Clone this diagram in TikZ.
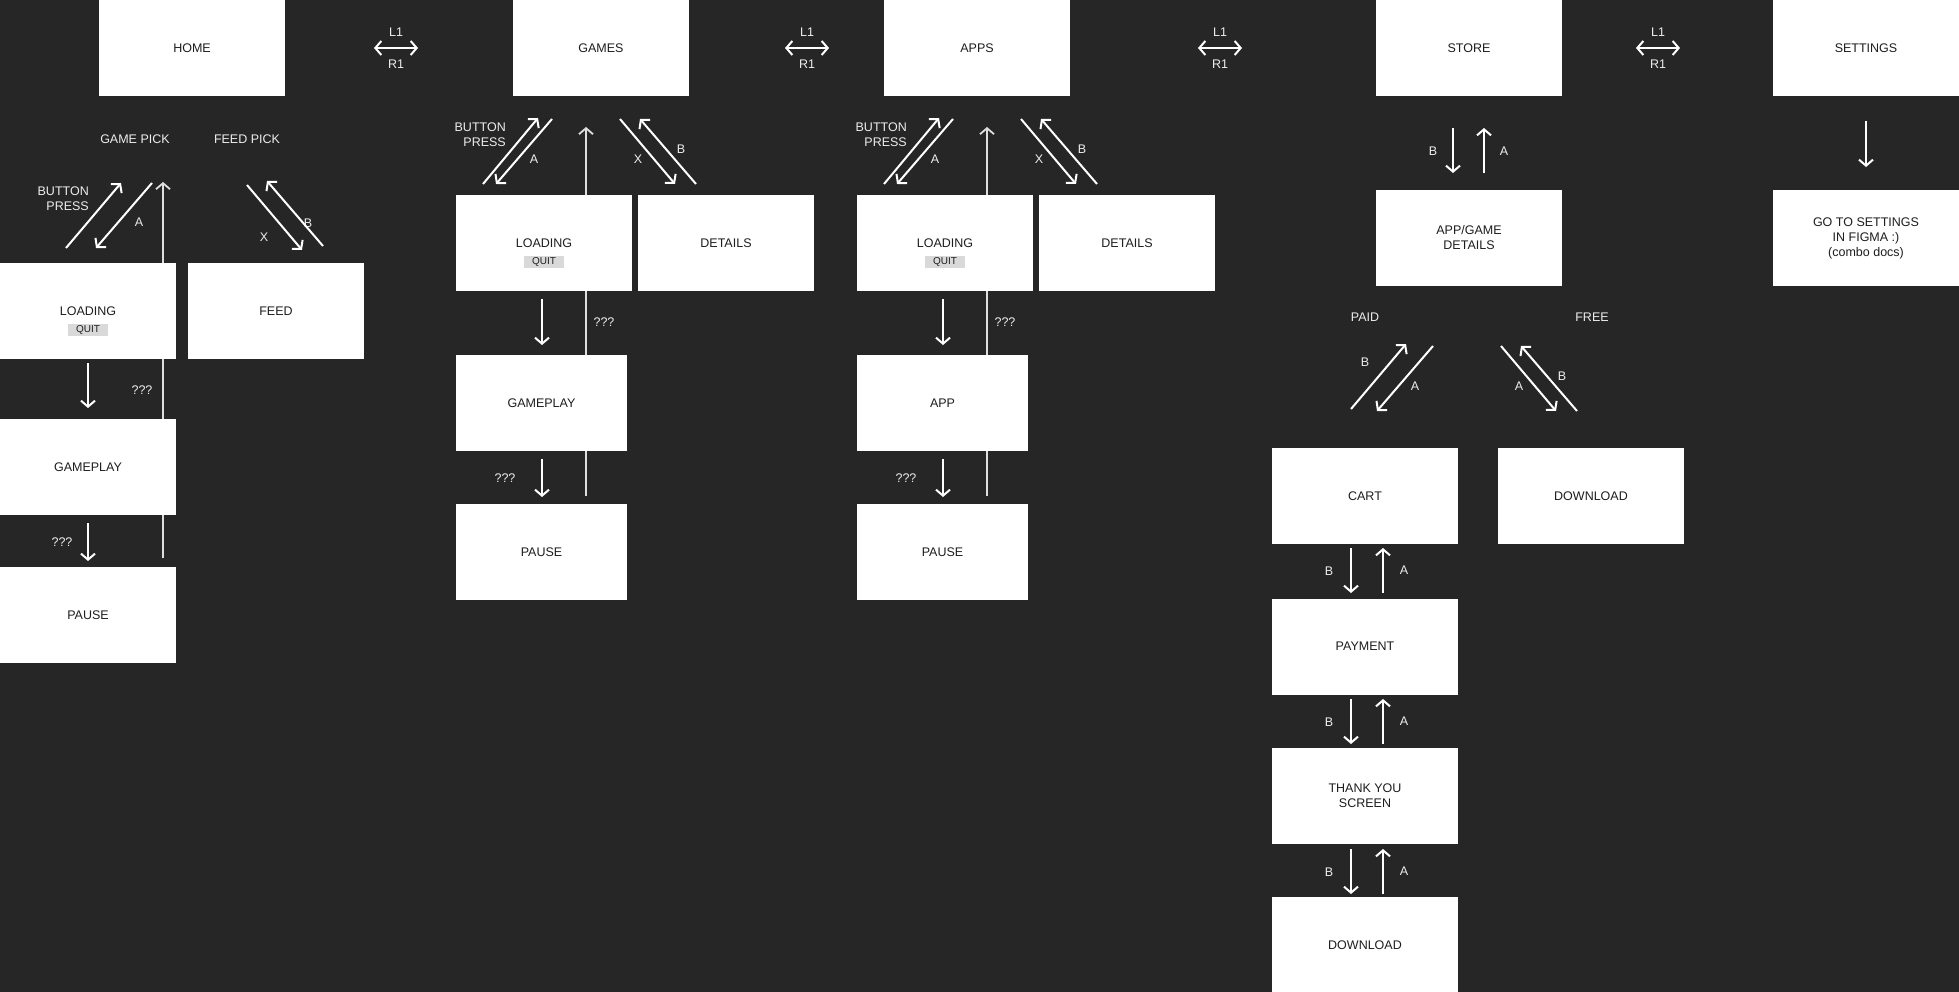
\documentclass[tikz,border=0pt]{standalone}
\usepackage{fontspec}
\setmainfont{Liberation Sans}
\usetikzlibrary{arrows.meta}
\definecolor{bg}{HTML}{262626}
\definecolor{ink}{HTML}{1E1E1E}
\definecolor{tagc}{HTML}{D9D9D9}
\definecolor{lblc}{HTML}{EDEDED}
\newcommand\mkarrow[4][]{\coordinate (#2-s) at (#3); \coordinate (#2-e) at (#4); \draw[arr,#1] (#2-s) -- (#2-e);}
\begin{document}
\begin{tikzpicture}[x=1pt,y=-1pt,
  boxbase/.style={fill=white, draw=none, inner sep=0pt, text=ink, align=center,
    font=\fontsize{12.5}{15}\selectfont, minimum height=96pt},
  wbox/.style={boxbase, minimum width=186pt},
  mbox/.style={boxbase, minimum width=176pt},
  nbox/.style={boxbase, minimum width=171pt},
  tag/.style={fill=tagc, text=ink, inner sep=0pt, minimum width=40pt, minimum height=12pt,
    font=\fontsize{10}{11}\selectfont},
  lbl/.style={text=lblc, inner sep=0pt, font=\fontsize{12.5}{15}\selectfont},
  arr/.style={draw=white, line width=2pt, -{Straight Barb[length=6pt,width=14pt]}},
  darr/.style={draw=white, line width=2pt, {Straight Barb[length=6pt,width=14pt]}-{Straight Barb[length=6pt,width=14pt]}},
  vline/.style={draw=white!85!bg, line width=1.8pt, -{Straight Barb[length=6pt,width=14pt]}}
]
\fill[bg] (0,0) rectangle (1959,992);
\useasboundingbox (0,0) rectangle (1959,992);

% ---------- long return lines (behind boxes) ----------
\mkarrow[vline]{hret}{163,558}{163,182}
\mkarrow[vline]{gret}{586,496}{586,127}
\mkarrow[vline]{aret}{987,496}{987,127}

% ---------- top row ----------
\node[wbox] (home) at (192,48) {HOME};
\node[mbox] (games) at (601,48) {GAMES};
\node[wbox] (apps) at (977,48) {APPS};
\node[wbox] (store) at (1469,48) {STORE};
\node[wbox] (settings) at (1866,48) {SETTINGS};

\foreach \cx/\nm in {396/t1,807/t2,1220/t3,1658/t4}{
  \coordinate (\nm-s) at (\cx-22,48);
  \coordinate (\nm-e) at (\cx+22,48);
  \draw[darr] (\nm-s) -- (\nm-e);
  \node[lbl] (\nm-l) at (\cx,32) {L1};
  \node[lbl] (\nm-r) at (\cx,64) {R1};
}

% ---------- HOME column ----------
\node[lbl] (gpick) at (135,139) {GAME PICK};
\node[lbl] (fpick) at (247,139) {FEED PICK};
\node[lbl, align=right, anchor=east] (hbp) at (89,198.5) {BUTTON\\PRESS};
\node[lbl] (ha) at (139,222) {A};
\node[lbl] (hx) at (264,237) {X};
\node[lbl] (hb) at (308,223) {B};
\mkarrow{hbtn}{66,248}{121,183}
\mkarrow{hbk}{152,183}{96,248}
\mkarrow{hfx}{247,185}{302,250}
\mkarrow{hfb}{323,246}{267,181}

\node[mbox] (hload) at (88,311) {LOADING};
\node[tag] (hquit) at (88,330) {QUIT};
\node[mbox] (hfeed) at (276,311) {FEED};
\node[mbox] (hplay) at (88,467) {GAMEPLAY};
\node[mbox] (hpause) at (88,615) {PAUSE};
\mkarrow{hlp}{88,363}{88,408}
\mkarrow{hpp}{88,523}{88,561}
\node[lbl] (hq1) at (142,390) {???};
\node[lbl] (hq2) at (62,542) {???};

% ---------- GAMES / APPS columns ----------
\foreach \dx/\p/\mid in {0/g/GAMEPLAY,401/a/APP}{
  \node[lbl, align=right, anchor=east] (\p bp) at (506+\dx,134.5) {BUTTON\\PRESS};
  \node[lbl] (\p la) at (534+\dx,159) {A};
  \node[lbl] (\p lx) at (638+\dx,159) {X};
  \node[lbl] (\p lb) at (681+\dx,149) {B};
  \coordinate (\p btn-s) at (483+\dx,184); \coordinate (\p btn-e) at (538+\dx,118);
  \draw[arr] (\p btn-s) -- (\p btn-e);
  \coordinate (\p bk-s) at (552+\dx,119); \coordinate (\p bk-e) at (496+\dx,184);
  \draw[arr] (\p bk-s) -- (\p bk-e);
  \coordinate (\p dx-s) at (620+\dx,119); \coordinate (\p dx-e) at (675+\dx,184);
  \draw[arr] (\p dx-s) -- (\p dx-e);
  \coordinate (\p db-s) at (696+\dx,184); \coordinate (\p db-e) at (640+\dx,119);
  \draw[arr] (\p db-s) -- (\p db-e);
  \node[mbox] (\p load) at (544+\dx,243) {LOADING};
  \node[tag] (\p quit) at (544+\dx,262) {QUIT};
  \node[mbox] (\p det) at (726+\dx,243) {DETAILS};
  \node[nbox] (\p play) at (541.5+\dx,403) {\mid};
  \node[nbox] (\p pause) at (541.5+\dx,552) {PAUSE};
  \coordinate (\p lp-s) at (542+\dx,299); \coordinate (\p lp-e) at (542+\dx,345);
  \draw[arr] (\p lp-s) -- (\p lp-e);
  \coordinate (\p pp-s) at (542+\dx,459); \coordinate (\p pp-e) at (542+\dx,497);
  \draw[arr] (\p pp-s) -- (\p pp-e);
  \node[lbl] (\p q1) at (604+\dx,322) {???};
  \node[lbl] (\p q2) at (505+\dx,478) {???};
}

% ---------- STORE column ----------
\mkarrow{sd}{1453,128}{1453,173}
\mkarrow{su}{1484,173}{1484,128}
\node[lbl] (sb) at (1433,151) {B};
\node[lbl] (sa) at (1504,151) {A};
\node[wbox] (sdet) at (1469,238) {APP/GAME\\DETAILS};
\node[lbl] (paid) at (1365,317) {PAID};
\node[lbl] (free) at (1592,317) {FREE};
\node[lbl] (pb) at (1365,362) {B};
\node[lbl] (pa) at (1415,386) {A};
\node[lbl] (fa) at (1519,386) {A};
\node[lbl] (fb) at (1562,376) {B};
\mkarrow{pbarr}{1351,409}{1406,344}
\mkarrow{paarr}{1433,346}{1377,411}
\mkarrow{faarr}{1501,346}{1556,411}
\mkarrow{fbarr}{1577,411}{1521,346}

\node[wbox] (cart) at (1365,496) {CART};
\node[wbox] (sdl) at (1591,496) {DOWNLOAD};
\node[wbox] (pay) at (1365,646.5) {PAYMENT};
\node[wbox] (thanks) at (1365,796) {THANK YOU\\SCREEN};
\node[wbox] (dl) at (1365,945) {DOWNLOAD};

\foreach \y/\nm in {548/c1,699/c2,849/c3}{
  \coordinate (\nm d-s) at (1351,\y); \coordinate (\nm d-e) at (1351,\y+45);
  \draw[arr] (\nm d-s) -- (\nm d-e);
  \coordinate (\nm u-s) at (1383,\y+45); \coordinate (\nm u-e) at (1383,\y);
  \draw[arr] (\nm u-s) -- (\nm u-e);
  \node[lbl] (\nm b) at (1329,\y+23) {B};
  \node[lbl] (\nm a) at (1404,\y+22) {A};
}

% ---------- SETTINGS column ----------
\mkarrow{setd}{1866,121}{1866,167}
\node[wbox] (figma) at (1866,238) {GO TO SETTINGS\\IN FIGMA :)\\(combo docs)};
\end{tikzpicture}
\end{document}
